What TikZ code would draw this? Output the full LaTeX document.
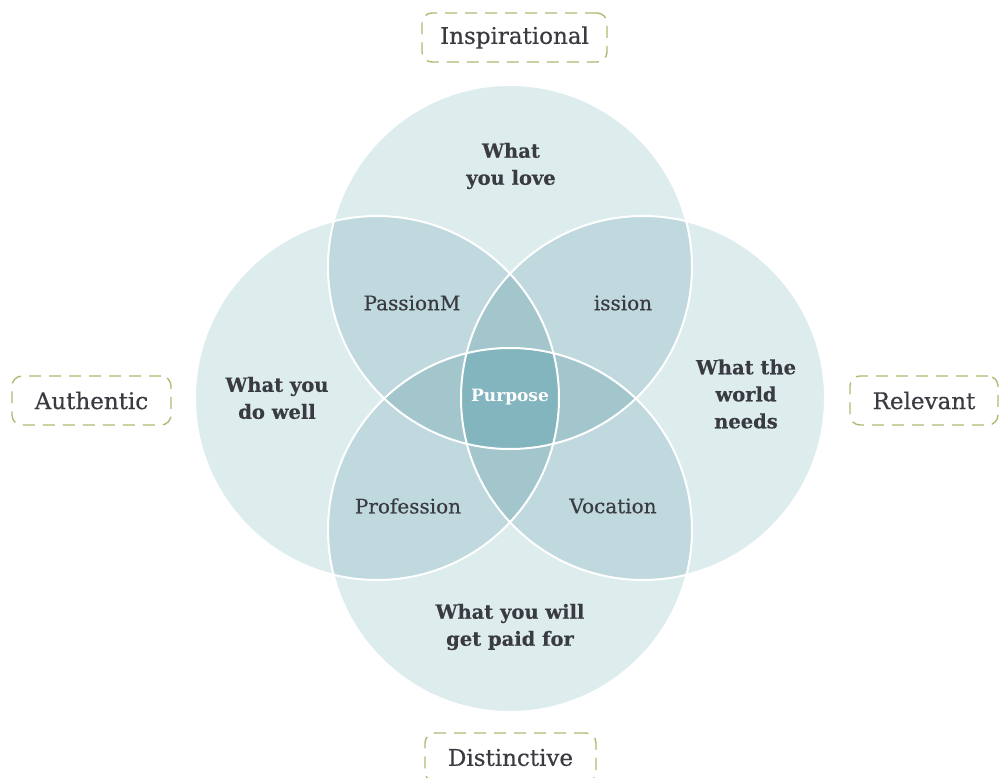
\documentclass[tikz,border=0pt]{standalone}
\usepackage{fontspec}
\setmainfont{DejaVu Serif}
\newfontfamily\medfont{DejaVu Serif}[FakeBold=0.5]
\newfontfamily\heavyfont{DejaVu Serif Bold}[FakeBold=0.4]
\definecolor{tone1}{HTML}{DDECED}
\definecolor{tone2}{HTML}{C0D9DE}
\definecolor{tone3}{HTML}{A3C6CC}
\definecolor{tone4}{HTML}{83B5BE}
\definecolor{ink}{HTML}{3A3B41}
\definecolor{olive}{HTML}{ADBA72}
\tikzset{
  headlab/.style={text=ink, align=center, font=\fontsize{19.5}{27}\heavyfont},
  overlab/.style={text=ink, align=center, font=\fontsize{20}{24}\medfont},
  tagbox/.style={draw=olive, line width=1.4pt, dash pattern=on 12pt off 8pt,
    rounded corners=10pt, text=ink, font=\fontsize{23}{27}\medfont,
    inner sep=0pt, minimum height=49pt},
}
\begin{document}
\begin{tikzpicture}[x=1pt,y=-1pt]
\useasboundingbox (0,0) rectangle (1003,778);
% circle centres
\coordinate (cT) at (510,267);
\coordinate (cB) at (510,530);
\coordinate (cL) at (377,398);
\coordinate (cR) at (643,398);
\def\rad{182pt}
% single circles
\foreach \c in {cT,cB,cL,cR} \fill[tone1] (\c) circle (\rad);
% pairwise overlaps
\foreach \a/\b in {cT/cL,cT/cR,cB/cL,cB/cR,cT/cB,cL/cR}{
  \begin{scope}
    \clip (\a) circle (\rad);
    \fill[tone2] (\b) circle (\rad);
  \end{scope}
}
% triple overlaps
\foreach \a/\b/\d in {cT/cL/cR,cT/cL/cB,cT/cR/cB,cB/cL/cR}{
  \begin{scope}
    \clip (\a) circle (\rad);
    \clip (\b) circle (\rad);
    \fill[tone3] (\d) circle (\rad);
  \end{scope}
}
% all four
\begin{scope}
  \clip (cT) circle (\rad);
  \clip (cB) circle (\rad);
  \clip (cL) circle (\rad);
  \fill[tone4] (cR) circle (\rad);
\end{scope}
% white outlines
\foreach \c in {cT,cB,cL,cR} \draw[white, line width=2pt] (\c) circle (\rad);

% labels of the circles
\node[headlab] (love) at (511,166) {What\\you love};
\node[headlab] (well) at (277,398) {What you\\do well};
\node[headlab] (needs) at (746,394) {What the\\world\\needs};
\node[headlab] (paid) at (510,627) {What you will\\get paid for};
% labels of the overlaps
\node[overlab] (passion) at (412,303) {PassionM};
\node[overlab] (mission) at (623,303) {ission};
\node[overlab] (profession) at (408,506) {Profession};
\node[overlab] (vocation) at (613,506) {Vocation};
\node[text=white, font=\fontsize{17}{20}\selectfont\bfseries] (purpose) at (510,397) {Purpose};

% qualities around the diagram
\node[tagbox, minimum width=185pt] (inspirational) at (514.5,37.5) {\raisebox{-1.5pt}{Inspirational}};
\node[tagbox, minimum width=159pt] (authentic) at (91.5,400.5) {\raisebox{-1pt}{Authentic}};
\node[tagbox, minimum width=148pt] (relevant) at (924,400.5) {\raisebox{-1pt}{Relevant}};
\node[tagbox, minimum width=171pt] (distinctive) at (510.5,757.5) {Distinctive};
\end{tikzpicture}
\end{document}
